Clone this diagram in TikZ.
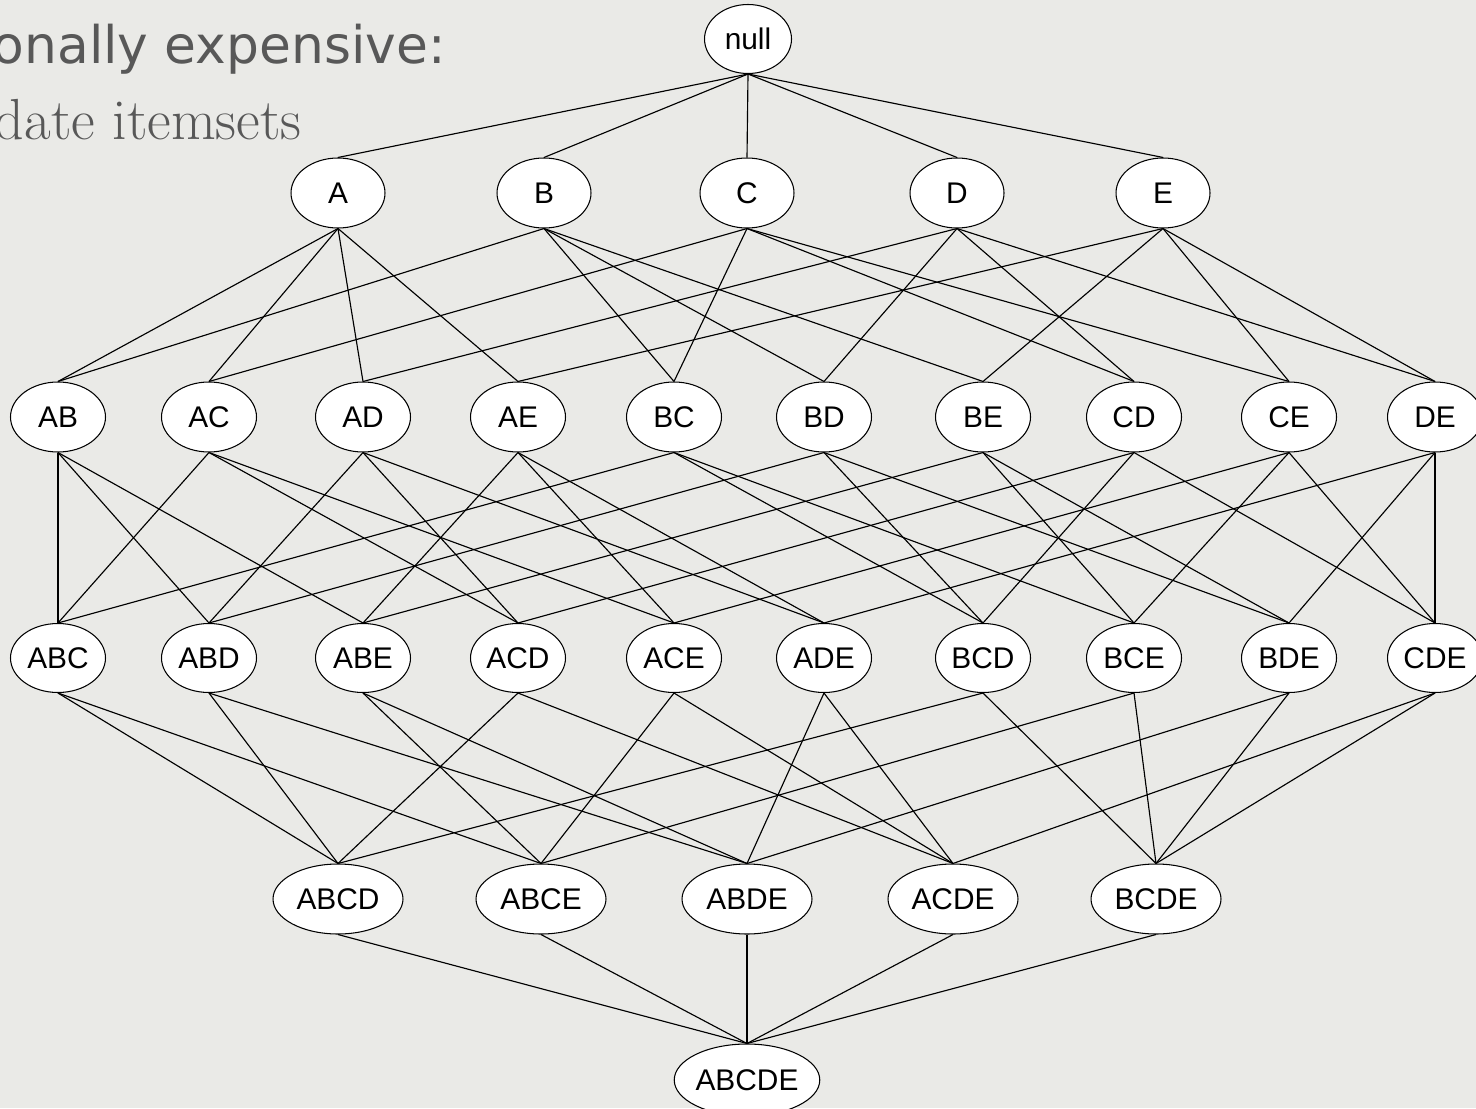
\documentclass[tikz,border=0pt]{standalone}
\usepackage{fontspec}
\usetikzlibrary{shapes.geometric}
\newfontfamily\nodefont{Liberation Sans}
\newfontfamily\headfont{DejaVu Sans}
\definecolor{bgcol}{RGB}{234,234,231}
\definecolor{headcol}{RGB}{88,88,88}
\tikzset{
  setnode/.style={draw=black, fill=white, ellipse, inner sep=0pt, line width=0.6pt,
    font=\nodefont\fontsize{17}{20}\selectfont},
  lvlzero/.style={setnode, minimum width=1.74cm, minimum height=1.38cm},
  lvlone/.style={setnode, minimum width=1.88cm, minimum height=1.4cm},
  lvltwo/.style={setnode, minimum width=1.9cm, minimum height=1.4cm},
  lvlthree/.style={setnode, minimum width=1.9cm, minimum height=1.38cm},
  lvlfour/.style={setnode, minimum width=2.6cm, minimum height=1.4cm},
  lvlfive/.style={setnode, minimum width=2.78cm, minimum height=1.44cm},
  edge/.style={draw=black, line width=0.65pt},
  headtext/.style={inner sep=0pt, text=headcol}
}
\begin{document}
\begin{tikzpicture}[x=0.02cm, y=-0.02cm]
\useasboundingbox (0,0) rectangle (1476,1108);
\clip (0,0) rectangle (1476,1108);
\fill[bgcol] (0,0) rectangle (1476,1108);

% slide text behind the lattice
\node[headtext, anchor=base east, font=\headfont\fontsize{29.5}{34}\selectfont] (h1) at (446,64) {onally expensive:};
\node[headtext, anchor=base east, font=\fontsize{33}{38}\selectfont] (h2) at (302,140) {date itemsets};

% level 0
\node[lvlzero] (n0) at (748,39) {null};
% level 1
\foreach \nm/\x in {A/338, B/544, C/747, D/957, E/1163}
  \node[lvlone] (n\nm) at (\x,193) {\nm};
% level 2
\foreach \nm/\x in {AB/58, AC/209, AD/363, AE/518, BC/674, BD/824, BE/983, CD/1134, CE/1289, DE/1435}
  \node[lvltwo] (n\nm) at (\x,417) {\nm};
% level 3
\foreach \nm/\x in {ABC/58, ABD/209, ABE/363, ACD/518, ACE/674, ADE/824, BCD/983, BCE/1134, BDE/1289, CDE/1435}
  \node[lvlthree] (n\nm) at (\x,658) {\nm};
% level 4
\foreach \nm/\x in {ABCD/338, ABCE/541, ABDE/747, ACDE/953, BCDE/1156}
  \node[lvlfour] (n\nm) at (\x,899) {\nm};
% level 5
\node[lvlfive] (nABCDE) at (747,1080) {ABCDE};

% edges: each set to its supersets one item larger
\foreach \c in {A,B,C,D,E}
  \draw[edge] (n0.south) -- (n\c.north);
\foreach \p/\c in {A/AB, A/AC, A/AD, A/AE,
                   B/AB, B/BC, B/BD, B/BE,
                   C/AC, C/BC, C/CD, C/CE,
                   D/AD, D/BD, D/CD, D/DE,
                   E/AE, E/BE, E/CE, E/DE}
  \draw[edge] (n\p.south) -- (n\c.north);
\foreach \p/\c in {AB/ABC, AB/ABD, AB/ABE,
                   AC/ABC, AC/ACD, AC/ACE,
                   AD/ABD, AD/ACD, AD/ADE,
                   AE/ABE, AE/ACE, AE/ADE,
                   BC/ABC, BC/BCD, BC/BCE,
                   BD/ABD, BD/BCD, BD/BDE,
                   BE/ABE, BE/BCE, BE/BDE,
                   CD/ACD, CD/BCD, CD/CDE,
                   CE/ACE, CE/BCE, CE/CDE,
                   DE/ADE, DE/BDE, DE/CDE}
  \draw[edge] (n\p.south) -- (n\c.north);
\foreach \p/\c in {ABC/ABCD, ABC/ABCE,
                   ABD/ABCD, ABD/ABDE,
                   ABE/ABCE, ABE/ABDE,
                   ACD/ABCD, ACD/ACDE,
                   ACE/ABCE, ACE/ACDE,
                   ADE/ABDE, ADE/ACDE,
                   BCD/ABCD, BCD/BCDE,
                   BCE/ABCE, BCE/BCDE,
                   BDE/ABDE, BDE/BCDE,
                   CDE/ACDE, CDE/BCDE}
  \draw[edge] (n\p.south) -- (n\c.north);
\foreach \p in {ABCD, ABCE, ABDE, ACDE, BCDE}
  \draw[edge] (n\p.south) -- (nABCDE.north);
\end{tikzpicture}
\end{document}
